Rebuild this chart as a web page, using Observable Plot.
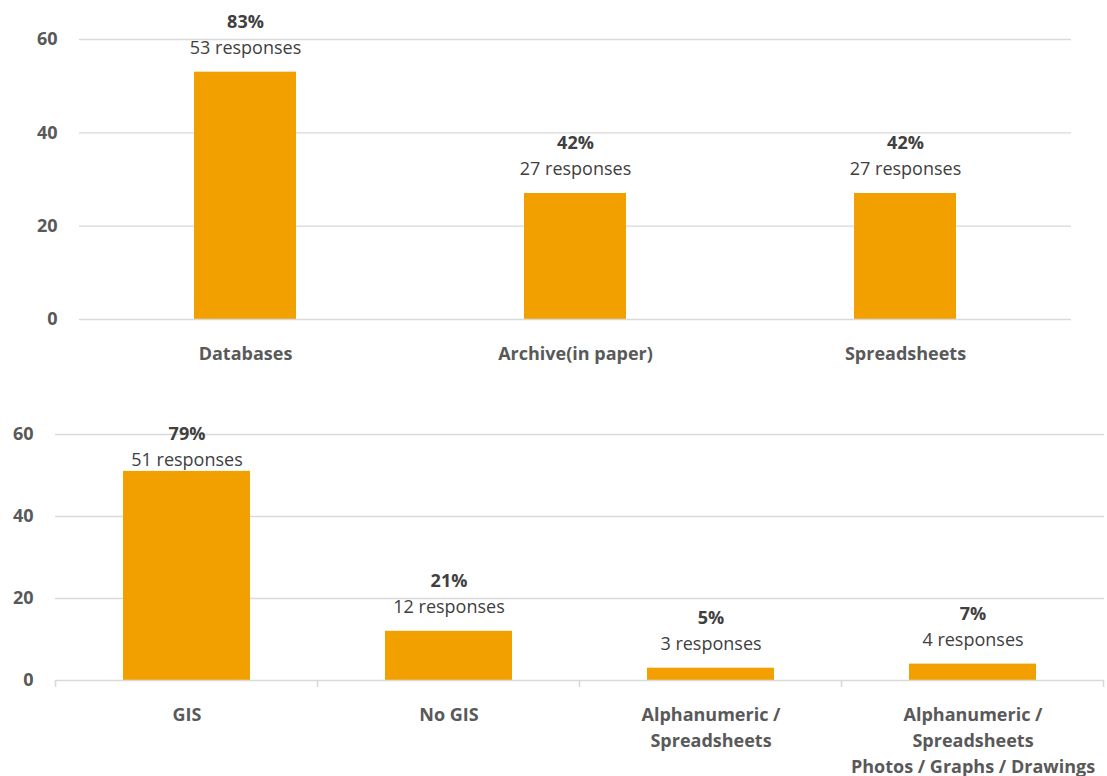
<!DOCTYPE html>
<html>
<head>
<meta charset="utf-8">
<script src="https://cdn.jsdelivr.net/npm/d3@7"></script>
<script src="https://cdn.jsdelivr.net/npm/@observablehq/plot@0.6"></script>
<style>
  html, body { margin: 0; padding: 0; background: #ffffff; }
  #chart svg { display: block; }
</style>
</head>
<body>
<div id="chart"></div>
<script>
// ---- Data ----
const topCategories = ["Databases", "Archive(in paper)", "Spreadsheets"];
const topCounts = [53, 27, 27];
const topPercents = ["83%", "42%", "42%"];

const bottomCategories = [
  "GIS",
  "No GIS",
  "Alphanumeric /\nSpreadsheets",
  "Alphanumeric /\nSpreadsheets\nPhotos / Graphs / Drawings"
];
const bottomCounts = [51, 12, 3, 4];
const bottomPercents = ["79%", "21%", "5%", "7%"];

const yTicks = [0, 20, 40, 60];
const yDomain = [0, 60];

// ---- Styles ----
const BAR = "#F2A000";
const GRID = "#D9D9D9";
const AXIS_TEXT = "#595959";
const LABEL_TEXT = "#404040";
const FONT = "'Open Sans', 'Noto Sans', sans-serif";

function rows(cats, counts, pcts) {
  return cats.map((c, i) => ({cat: c, count: counts[i], pct: pcts[i], resp: counts[i] + " responses"}));
}

function chart({data, cats, height, marginTop, marginBottom, marginLeft, marginRight, paddingInner, tickPadding, baselineTicks, labelCap}) {
  const labelY = d => (labelCap == null ? d.count : Math.min(d.count, labelCap));
  const marks = [
    Plot.gridY(yTicks.filter(t => t !== 0), {stroke: GRID, strokeOpacity: 1, strokeWidth: 1.4}),
    Plot.barY(data, {x: "cat", y: "count", fill: BAR}),
    Plot.ruleY([0], {stroke: GRID, strokeOpacity: 1, strokeWidth: 1.6}),
    Plot.axisY({ticks: yTicks, tickSize: 0, tickPadding, label: null, fontSize: 18, fontWeight: "bold", fill: AXIS_TEXT}),
    Plot.text(data, {x: "cat", y: labelY, text: "resp", dy: -24, lineAnchor: "middle", fontSize: 18, fontWeight: "normal", fill: LABEL_TEXT}),
    Plot.text(data, {x: "cat", y: labelY, text: "pct", dy: -50, lineAnchor: "middle", fontSize: 18, fontWeight: "bold", fill: LABEL_TEXT}),
    Plot.text(data, {x: "cat", text: "cat", frameAnchor: "bottom", lineAnchor: "top", dy: 22, lineHeight: 1.45, fontSize: 18, fontWeight: "bold", fill: AXIS_TEXT})
  ];
  if (baselineTicks) {
    marks.push((index, scales, values, dimensions) => {
      const sx = scales.x;
      const bw = typeof sx.bandwidth === "function" ? sx.bandwidth() : 0;
      const step = typeof sx.step === "function" ? sx.step() : (sx(cats[1]) - sx(cats[0]));
      const edges = cats.map(c => sx(c) + bw / 2 - step / 2);
      edges.push(sx(cats[cats.length - 1]) + bw / 2 + step / 2);
      const y0 = scales.y(0);
      const g = d3.create("svg:g");
      g.selectAll("line").data(edges).join("line")
        .attr("x1", d => d).attr("x2", d => d)
        .attr("y1", y0).attr("y2", y0 + 7)
        .attr("stroke", GRID).attr("stroke-width", 1.6);
      return g.node();
    });
  }
  return Plot.plot({
    width: 1107,
    height,
    marginTop, marginBottom, marginLeft, marginRight,
    style: {fontFamily: FONT, fontSize: "18px", color: AXIS_TEXT, background: "#ffffff", overflow: "visible"},
    x: {type: "band", domain: cats, paddingInner, paddingOuter: paddingInner / 2, axis: null},
    y: {domain: yDomain, axis: null, label: null},
    marks
  });
}

const topHeight = 380;
const bottomHeight = 396;
const bottomMT = 54, bottomMB = 96;
const bottomPxPerUnit = (bottomHeight - bottomMT - bottomMB) / (yDomain[1] - yDomain[0]);
// Excel keeps data labels inside the chart area: cap label anchor so the top label sits at the 60 line
const bottomLabelCap = yDomain[1] - 50 / bottomPxPerUnit;

const el = document.getElementById("chart");
el.append(chart({
  data: rows(topCategories, topCounts, topPercents),
  cats: topCategories,
  height: topHeight,
  marginTop: 39, marginBottom: 61, marginLeft: 79, marginRight: 36,
  paddingInner: 0.69, tickPadding: 22, baselineTicks: false, labelCap: null
}));
el.append(chart({
  data: rows(bottomCategories, bottomCounts, bottomPercents),
  cats: bottomCategories,
  height: bottomHeight,
  marginTop: bottomMT, marginBottom: bottomMB, marginLeft: 55, marginRight: 3,
  paddingInner: 0.515, tickPadding: 22, baselineTicks: true, labelCap: bottomLabelCap
}));
</script>
</body>
</html>
